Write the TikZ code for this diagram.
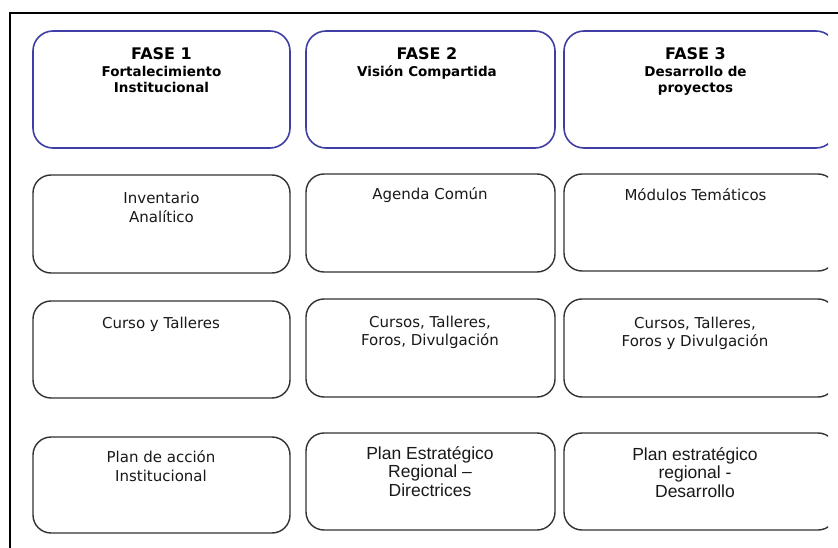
\documentclass[tikz,border=0pt]{standalone}
\usepackage{fontspec}
\setmainfont{DejaVu Sans}
\newfontfamily\arialfont{Liberation Sans}
\definecolor{phaseblue}{RGB}{62,62,165}
\definecolor{cellgray}{RGB}{50,50,50}
\definecolor{inkgray}{RGB}{25,25,25}
% lines of a cell, anchored at the baseline of the first one
\newcommand{\celltext}[1]{\begin{tabular}[t]{@{}c@{}}#1\end{tabular}}
\tikzset{
  phasebox/.style={draw=phaseblue, line width=1.6pt, rounded corners=20pt},
  cellbox/.style={draw=cellgray, line width=1.4pt, rounded corners=18pt},
  phasetext/.style={anchor=base, inner sep=0pt, text=black,
    font=\bfseries\fontsize{13.5}{16}\selectfont},
  celltxt/.style={anchor=base, inner sep=0pt, text=inkgray,
    font=\fontsize{15}{19}\selectfont},
  arialtxt/.style={anchor=base, inner sep=0pt, text=inkgray,
    font=\arialfont\fontsize{17.5}{18.5}\selectfont},
  frameline/.style={draw=black, line width=2.5pt}
}
\begin{document}
\begin{tikzpicture}[x=1pt, y=-1pt]
\useasboundingbox (0,0) rectangle (838,548);
\fill[white] (0,0) rectangle (838,548);

% outer frame (only top and left edges fall inside the picture)
\coordinate (fa) at (845,13);
\coordinate (fb) at (10,13);
\coordinate (fc) at (10,555);
\draw[frameline] (fa) -- (fb) -- (fc);

\begin{scope}
\clip (0,0) rectangle (828,548);
% row 1: phases
\draw[phasebox] (33,31) rectangle (290,148);
\draw[phasebox] (306,31) rectangle (555,148);
\draw[phasebox] (564,31) rectangle (836,148);
% row 2
\draw[cellbox] (33,175) rectangle (290,273);
\draw[cellbox] (306,174) rectangle (555,272);
\draw[cellbox] (564,174) rectangle (836,271);
% row 3
\draw[cellbox] (33,301) rectangle (290,398);
\draw[cellbox] (306,299) rectangle (555,397);
\draw[cellbox] (564,299) rectangle (836,397);
% row 4
\draw[cellbox] (33,437) rectangle (290,533);
\draw[cellbox] (306,433) rectangle (555,530);
\draw[cellbox] (564,433) rectangle (836,530);
\end{scope}

% phase headings
\node[phasetext] (h1) at (161.5,60) {\celltext{{\fontsize{16}{19}\selectfont FASE 1}\\[1pt] Fortalecimiento\\ Institucional}};
\node[phasetext] (h2) at (427,60) {\celltext{{\fontsize{16}{19}\selectfont FASE 2}\\[1pt] Visión Compartida}};
\node[phasetext] (h3) at (695.5,60) {\celltext{{\fontsize{16}{19}\selectfont FASE 3}\\[1pt] Desarrollo de\\ proyectos}};

% row 2 texts
\node[celltxt] (a1) at (161.5,204) {\celltext{Inventario\\ Analítico}};
\node[celltxt] (a2) at (430,200) {\celltext{Agenda Común}};
\node[celltxt] (a3) at (695.5,201) {\celltext{Módulos Temáticos}};

% row 3 texts
\node[celltxt, font=\fontsize{15}{18}\selectfont] (b1) at (161,328) {\celltext{Curso y Talleres}};
\node[celltxt, font=\fontsize{15}{18}\selectfont] (b2) at (430,327) {\celltext{Cursos, Talleres,\\ Foros, Divulgación}};
\node[celltxt, font=\fontsize{15}{18}\selectfont] (b3) at (695,328) {\celltext{Cursos, Talleres,\\ Foros y Divulgación}};

% row 4 texts
\node[celltxt] (c1) at (161,462) {\celltext{Plan de acción\\ Institucional}};
\node[arialtxt] (c2) at (430,459) {\celltext{Plan Estratégico\\ Regional –\\ Directrices}};
\node[arialtxt] (c3) at (695,460) {\celltext{Plan estratégico\\ regional -\\ Desarrollo}};
\end{tikzpicture}
\end{document}
